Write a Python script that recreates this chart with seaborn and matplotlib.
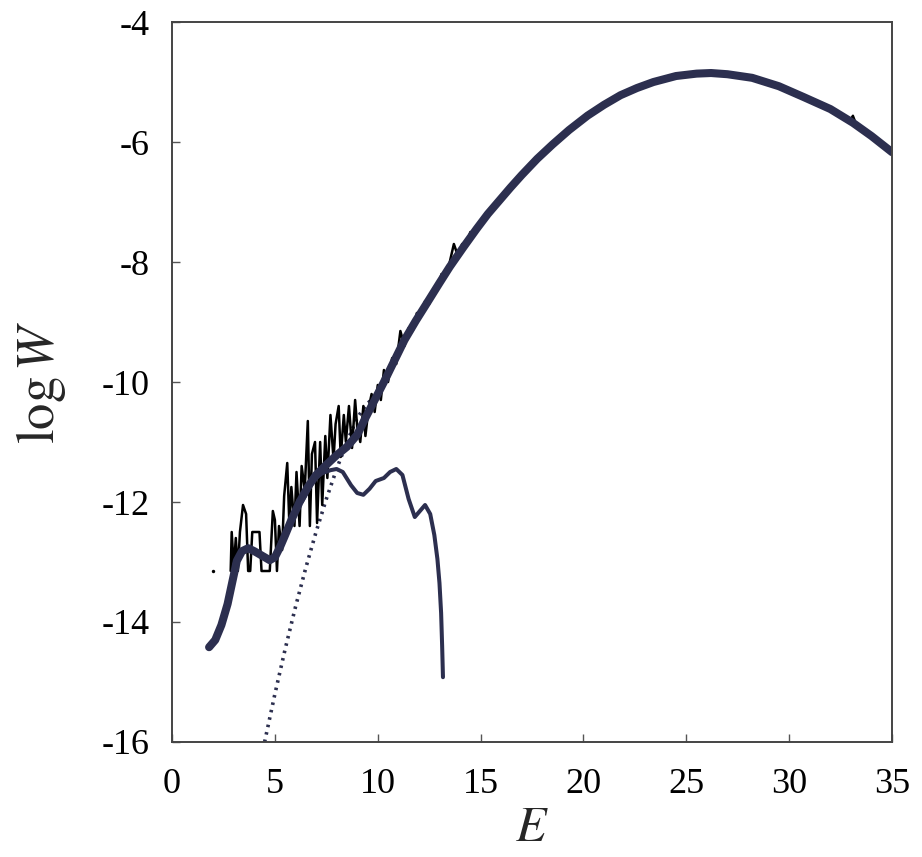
import numpy as np
import pandas as pd
import matplotlib
matplotlib.use("Agg")
import matplotlib.pyplot as plt
import seaborn as sns

# ---- data ----
main_E = [1.8, 2.1, 2.4, 2.7, 2.95, 3.15, 3.4, 3.7, 4.0, 4.4, 4.75, 5.0, 5.25, 5.5, 5.8,
          6.2, 6.6, 7.0, 7.5, 8.0, 8.5, 9.0, 9.4, 9.85, 10.3, 10.8, 11.3, 11.85, 12.4,
          13.0, 13.5, 14.15, 14.8, 15.35, 15.9, 16.45, 17.0, 17.75, 18.5, 19.3, 20.2,
          21.0, 21.8, 22.6, 23.4, 24.5, 25.5, 26.2, 27.0, 28.2, 29.5, 30.7, 32.0, 33.1,
          34.0, 35.0]
main_logW = [-14.42, -14.3, -14.05, -13.7, -13.3, -12.98, -12.82, -12.77, -12.82, -12.9,
             -12.97, -12.92, -12.75, -12.55, -12.3, -12.0, -11.75, -11.55, -11.38,
             -11.22, -11.08, -10.88, -10.6, -10.3, -10.0, -9.65, -9.3, -8.98, -8.68,
             -8.35, -8.08, -7.76, -7.45, -7.2, -6.98, -6.76, -6.55, -6.28, -6.04, -5.8,
             -5.56, -5.38, -5.22, -5.1, -5.0, -4.9, -4.86, -4.85, -4.87, -4.93, -5.07,
             -5.25, -5.45, -5.68, -5.9, -6.17]

noisy_E = [2.85, 2.9, 3.0, 3.1, 3.2, 3.3, 3.45, 3.6, 3.7, 3.8, 3.9, 4.0, 4.1, 4.25, 4.35,
           4.5, 4.65, 4.75, 4.9, 5.0, 5.1, 5.2, 5.35, 5.45, 5.6, 5.7, 5.8, 5.95, 6.05, 6.2,
           6.3, 6.45, 6.6, 6.7, 6.8, 6.95, 7.05, 7.2, 7.3, 7.45, 7.55, 7.7, 7.85, 7.95,
           8.1, 8.2, 8.35, 8.45, 8.6, 8.75, 8.9, 9.0, 9.15, 9.3, 9.4, 9.55, 9.7, 9.85,
           10.0, 10.15, 10.3, 10.5, 10.7, 10.9, 11.1, 11.3, 11.5, 11.7, 11.9, 12.1, 12.3,
           12.5, 12.7, 12.9, 13.1, 13.3, 13.5, 13.7, 13.9, 14.1, 14.3, 14.5, 14.7, 14.9,
           15.1]
noisy_logW = [-13.15, -12.5, -13.1, -12.6, -13.15, -12.5, -12.05, -12.2, -13.15, -13.15,
              -12.5, -12.5, -12.5, -12.5, -13.15, -13.15, -13.15, -13.15, -12.15, -12.3,
              -13.15, -12.4, -12.8, -11.9, -11.35, -12.35, -11.75, -12.4, -11.5, -12.4,
              -11.4, -11.8, -10.65, -12.4, -11.2, -11.0, -12.35, -11.0, -12.05, -10.9,
              -11.6, -10.55, -11.3, -10.7, -10.4, -11.25, -10.55, -11.0, -10.4, -11.1,
              -10.3, -10.75, -11.0, -10.4, -10.9, -10.45, -10.2, -10.5, -10.05, -10.3,
              -9.8, -10.0, -9.6, -9.7, -9.15, -9.4, -9.1, -9.15, -8.85, -8.9, -8.65,
              -8.7, -8.45, -8.45, -8.2, -8.25, -8.0, -7.7, -7.9, -7.7, -7.72, -7.5,
              -7.53, -7.35, -7.33]
notch_E = [32.9, 33.1, 33.3]
notch_logW = [-5.66, -5.56, -5.74]
dot_E = [2.0]
dot_logW = [-13.15]

thin_E = [6.3, 6.9, 7.3, 7.7, 8.0, 8.3, 8.7, 9.0, 9.3, 9.6, 9.9, 10.3, 10.6, 10.9,
          11.2, 11.5, 11.8, 12.05, 12.3, 12.55, 12.75, 12.9, 13.0, 13.08, 13.13, 13.17]
thin_logW = [-12.0, -11.63, -11.52, -11.47, -11.45, -11.5, -11.72, -11.85, -11.88,
             -11.78, -11.65, -11.6, -11.5, -11.45, -11.55, -11.95, -12.25, -12.15,
             -12.05, -12.2, -12.55, -12.95, -13.35, -13.85, -14.4, -14.92]

fit_E = [4.5, 5.0, 5.5, 6.0, 6.5, 7.0, 7.5, 8.0, 8.5, 9.0, 9.4, 9.8]
fit_logW = [-16.0, -15.2, -14.45, -13.75, -13.1, -12.5, -11.95, -11.45, -11.0, -10.6,
            -10.4, -10.25]

x_ticks = [0, 5, 10, 15, 20, 25, 30, 35]
y_ticks = [-16, -14, -12, -10, -8, -6, -4]

# ---- style ----
sns.set_theme(style="white")
plt.rcParams["font.family"] = ["Liberation Serif", "DejaVu Serif"]
plt.rcParams["mathtext.fontset"] = "stix"
plt.rcParams["axes.unicode_minus"] = False

navy = "#2c2f4f"

fig = plt.figure(figsize=(9.22, 8.57), dpi=100)
ax = fig.add_axes([0.1866, 0.1342, 0.7809, 0.8401])

sns.lineplot(x=fit_E, y=fit_logW, ax=ax, color=navy, linewidth=2.6,
             linestyle=(0, (0.7, 1.4)), estimator=None, sort=False)
sns.lineplot(x=noisy_E, y=noisy_logW, ax=ax, color="black", linewidth=1.8,
             estimator=None, sort=False)
sns.lineplot(x=notch_E, y=notch_logW, ax=ax, color="black", linewidth=1.6,
             estimator=None, sort=False)
sns.scatterplot(x=dot_E, y=dot_logW, ax=ax, color="black", s=6, linewidth=0)
sns.lineplot(x=thin_E, y=thin_logW, ax=ax, color=navy, linewidth=2.9,
             estimator=None, sort=False)
sns.lineplot(x=main_E, y=main_logW, ax=ax, color=navy, linewidth=5.8,
             estimator=None, sort=False, solid_capstyle="round",
             solid_joinstyle="round")

ax.set_xlim(0, 35)
ax.set_ylim(-16, -4)
ax.set_xticks(x_ticks)
ax.set_yticks(y_ticks)
ax.set_xticklabels([str(t) for t in x_ticks])
ax.set_yticklabels([str(t) for t in y_ticks])

for s in ax.spines.values():
    s.set_color("#444444")
    s.set_linewidth(1.4)

ax.tick_params(axis="both", which="major", direction="in", length=6, width=1.0,
               color="#555555", labelsize=26, labelcolor="black",
               top=False, right=False, left=True, bottom=True)
ax.tick_params(axis="y", pad=16)
ax.tick_params(axis="x", pad=19)

ax.set_xlabel(r"$E$", fontsize=36, labelpad=3)
ax.set_ylabel(r"$\log W$", fontsize=38, labelpad=24)

fig.savefig("out.png", dpi=100)
